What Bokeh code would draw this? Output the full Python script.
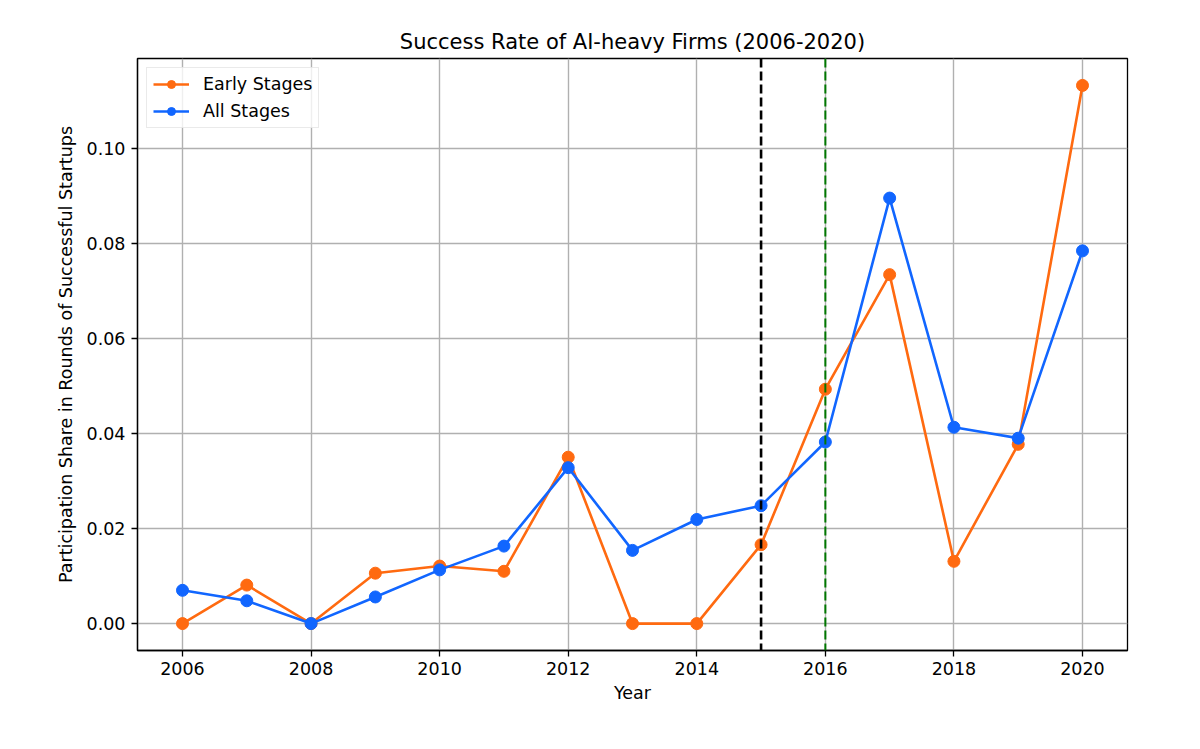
from bokeh.plotting import figure
from bokeh.models import Span, Range1d, FixedTicker, PrintfTickFormatter, Legend, LegendItem, ColumnDataSource
from bokeh.embed import file_html
from bokeh.resources import INLINE

years = [2006, 2007, 2008, 2009, 2010, 2011, 2012, 2013, 2014, 2015, 2016, 2017, 2018, 2019, 2020]
early_stages = [0.0, 0.0081, 0.0, 0.0106, 0.0121, 0.0110, 0.0350, 0.0, 0.0, 0.0166, 0.0493, 0.0734, 0.0131, 0.0377, 0.1132]
all_stages = [0.0070, 0.0048, 0.0, 0.0056, 0.0113, 0.0163, 0.0328, 0.0154, 0.0219, 0.0248, 0.0382, 0.0895, 0.0413, 0.0390, 0.0784]
x_ticks = [2006, 2008, 2010, 2012, 2014, 2016, 2018, 2020]
y_ticks = [0.0, 0.02, 0.04, 0.06, 0.08, 0.10]
vline_black = 2015
vline_green = 2016

title = "Success Rate of AI-heavy Firms (2006-2020)"
x_label = "Year"
y_label = "Participation Share in Rounds of Successful Startups"

ORANGE = "#ff6a10"
BLUE = "#1166ff"
FONT = "DejaVu Sans"
FS = "17.5px"

xpad = (max(years) - min(years)) * 0.05
ymax = max(max(early_stages), max(all_stages))
ypad = ymax * 0.05

p = figure(width=1184, height=733, output_backend="svg", toolbar_location=None,
           x_range=Range1d(min(years) - xpad, max(years) + xpad),
           y_range=Range1d(-ypad, ymax + ypad),
           min_border_left=137, min_border_right=57, min_border_top=58, min_border_bottom=83)

p.title.text = title
p.title.align = "center"
p.title.text_font = FONT
p.title.text_font_size = "21px"
p.title.text_font_style = "normal"
p.title.text_color = "#000000"
p.title.standoff = 10

p.background_fill_color = "white"
p.border_fill_color = "white"
p.outline_line_color = "black"
p.outline_line_width = 1.3

for ax in (p.xaxis[0], p.yaxis[0]):
    ax.axis_line_color = "black"
    ax.axis_line_width = 1.3
    ax.major_tick_line_color = "black"
    ax.major_tick_line_width = 1.3
    ax.major_tick_in = 0
    ax.major_tick_out = 6
    ax.minor_tick_line_color = None
    ax.major_label_text_font = FONT
    ax.major_label_text_font_size = FS
    ax.major_label_text_color = "#000000"
    ax.axis_label_text_font = FONT
    ax.axis_label_text_font_size = FS
    ax.axis_label_text_font_style = "normal"
    ax.axis_label_text_color = "#000000"

p.xaxis[0].ticker = FixedTicker(ticks=x_ticks)
p.yaxis[0].ticker = FixedTicker(ticks=y_ticks)
p.yaxis[0].formatter = PrintfTickFormatter(format="%.2f")
p.xaxis[0].axis_label = x_label
p.yaxis[0].axis_label = y_label
p.xaxis[0].major_label_standoff = 5
p.yaxis[0].major_label_standoff = 6
p.xaxis[0].axis_label_standoff = 5
p.yaxis[0].axis_label_standoff = 8

p.xgrid[0].ticker = FixedTicker(ticks=x_ticks)
p.ygrid[0].ticker = FixedTicker(ticks=y_ticks)
p.grid.grid_line_color = "#b0b0b0"
p.grid.grid_line_width = 1.4

src = ColumnDataSource(dict(x=years, early=early_stages, all=all_stages))

l1 = p.line("x", "early", source=src, line_color=ORANGE, line_width=2.6)
c1 = p.scatter("x", "early", source=src, size=12, fill_color=ORANGE, line_color=ORANGE)
l2 = p.line("x", "all", source=src, line_color=BLUE, line_width=2.6)
c2 = p.scatter("x", "all", source=src, size=12, fill_color=BLUE, line_color=BLUE)

p.add_layout(Span(location=vline_black, dimension="height", line_color="black", line_width=2.6, line_dash="9 4"))
p.add_layout(Span(location=vline_green, dimension="height", line_color="#007700", line_width=2.0, line_dash="9 4"))

legend = Legend(items=[LegendItem(label="Early Stages", renderers=[l1, c1]),
                       LegendItem(label="All Stages", renderers=[l2, c2])],
                location="top_left")
legend.label_text_font = FONT
legend.label_text_font_size = FS
legend.label_text_color = "#000000"
legend.border_line_color = "#d6d6d6"
legend.border_line_width = 1.3
legend.background_fill_alpha = 0.8
legend.glyph_width = 36
legend.glyph_height = 20
legend.spacing = 7
legend.padding = 6
legend.margin = 9
legend.label_standoff = 14
legend.label_height = 20
p.add_layout(legend, "center")

open("out.html", "w").write(file_html(p, INLINE))
